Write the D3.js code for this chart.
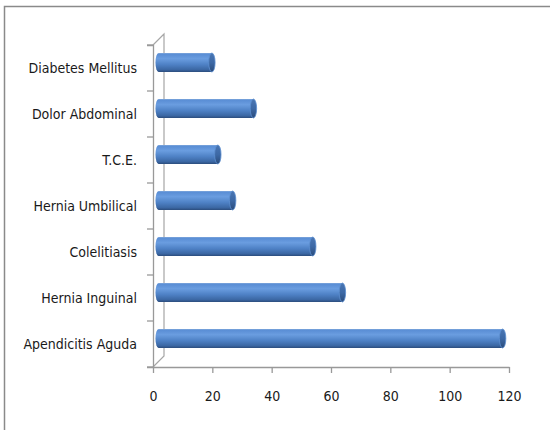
<!DOCTYPE html>
<html>
<head>
<meta charset="utf-8">
<script src="https://cdn.jsdelivr.net/npm/d3@7/dist/d3.min.js"></script>
<style>
  html, body { margin: 0; padding: 0; background: #fff; }
  svg { display: block; }
  .lbl { font-family: "Liberation Sans Narrow", "DejaVu Sans Condensed", "Open Sans", sans-serif; fill: #1a1a1a; }
</style>
</head>
<body>
<svg id="chart" width="550" height="430"></svg>
<script>
// Diagnoses, listed top to bottom
const categories = ["Diabetes Mellitus", "Dolor Abdominal", "T.C.E.", "Hernia Umbilical", "Colelitiasis", "Hernia Inguinal", "Apendicitis Aguda"];
// Number of cases per diagnosis
const values = [18, 32, 20, 25, 52, 62, 116];
// Value axis ticks
const xTicks = [0, 20, 40, 60, 80, 100, 120];

const svg = d3.select("#chart");

// Outer chart frame
svg.append("path")
  .attr("d", "M4.5,430 V6.5 H550")
  .attr("fill", "none")
  .attr("stroke", "#8a8a8a")
  .attr("stroke-width", 1.5);

const x = d3.scaleLinear().domain([0, 120]).range([153, 509]);
const y = d3.scaleBand().domain(categories).range([45, 367]);
const depth = 11;          // 3D wall depth offset
const half = depth / 2;
const barH = 19;

// Gradients for cylinders
const defs = svg.append("defs");
const g1 = defs.append("linearGradient").attr("id", "cyl").attr("x1", 0).attr("y1", 0).attr("x2", 0).attr("y2", 1);
[[0, "#7ea6db"], [0.08, "#5b8fd6"], [0.3, "#6a9de0"], [0.6, "#4f82c6"], [0.88, "#3b67a3"], [1, "#2b4c7c"]]
  .forEach(([o, c]) => g1.append("stop").attr("offset", o).attr("stop-color", c));
const g2 = defs.append("linearGradient").attr("id", "cap").attr("x1", 0).attr("y1", 0).attr("x2", 0).attr("y2", 1);
[[0, "#4a76b3"], [0.5, "#3d69a6"], [1, "#2a4b7a"]]
  .forEach(([o, c]) => g2.append("stop").attr("offset", o).attr("stop-color", c));

// Back wall edge and the diagonal depth lines
const x0 = x(0);
svg.append("path")
  .attr("d", `M${x0},${y.range()[0]} L${x0 + depth},${y.range()[0] - depth} V${y.range()[1] - depth} L${x0},${y.range()[1]}`)
  .attr("fill", "none")
  .attr("stroke", "#a6a6a6")
  .attr("stroke-width", 1.2);

// Category axis
const yAxis = svg.append("g")
  .attr("transform", `translate(${x0},0)`)
  .call(d3.axisLeft(y).tickSize(6).tickPadding(10).tickSizeOuter(6));
yAxis.select(".domain").attr("stroke", "#999").attr("stroke-width", 1.3);
yAxis.selectAll(".tick line").attr("stroke", "#999").attr("stroke-width", 1.3);
// boundary ticks between categories
const bounds = d3.range(categories.length + 1).map(i => y.range()[0] + i * y.bandwidth());
yAxis.selectAll(".tick line").remove();
yAxis.selectAll(".bt").data(bounds).join("line")
  .attr("class", "bt")
  .attr("x1", -6).attr("x2", 0)
  .attr("y1", d => d).attr("y2", d => d)
  .attr("stroke", "#999").attr("stroke-width", 1.3);
yAxis.selectAll(".tick text")
  .attr("class", "lbl")
  .attr("font-size", 14)
  .attr("dy", "0.35em");

// Value axis
const xAxis = svg.append("g")
  .attr("transform", `translate(0,${y.range()[1]})`)
  .call(d3.axisBottom(x).tickValues(xTicks).tickSize(6).tickSizeOuter(0).tickPadding(18));
xAxis.select(".domain").attr("stroke", "#999").attr("stroke-width", 1.3);
xAxis.selectAll(".tick line").attr("stroke", "#999").attr("stroke-width", 1.3);
xAxis.selectAll(".tick text").attr("class", "lbl").attr("font-size", 14);

// Cylinder bars
const bars = svg.append("g");
categories.forEach((c, i) => {
  const cy = y(c) + y.bandwidth() / 2 - half;
  const xs = x(0) + half;
  const xe = x(values[i]) + half;
  const g = bars.append("g");
  g.append("ellipse")
    .attr("cx", xs).attr("cy", cy).attr("rx", 3).attr("ry", barH / 2)
    .attr("fill", "url(#cyl)");
  g.append("rect")
    .attr("x", xs).attr("y", cy - barH / 2)
    .attr("width", xe - xs).attr("height", barH)
    .attr("fill", "url(#cyl)");
  g.append("ellipse")
    .attr("cx", xe).attr("cy", cy).attr("rx", 3.2).attr("ry", barH / 2)
    .attr("fill", "url(#cap)")
    .attr("stroke", "#5d8fd0").attr("stroke-width", 0.8);
});
</script>
</body>
</html>
